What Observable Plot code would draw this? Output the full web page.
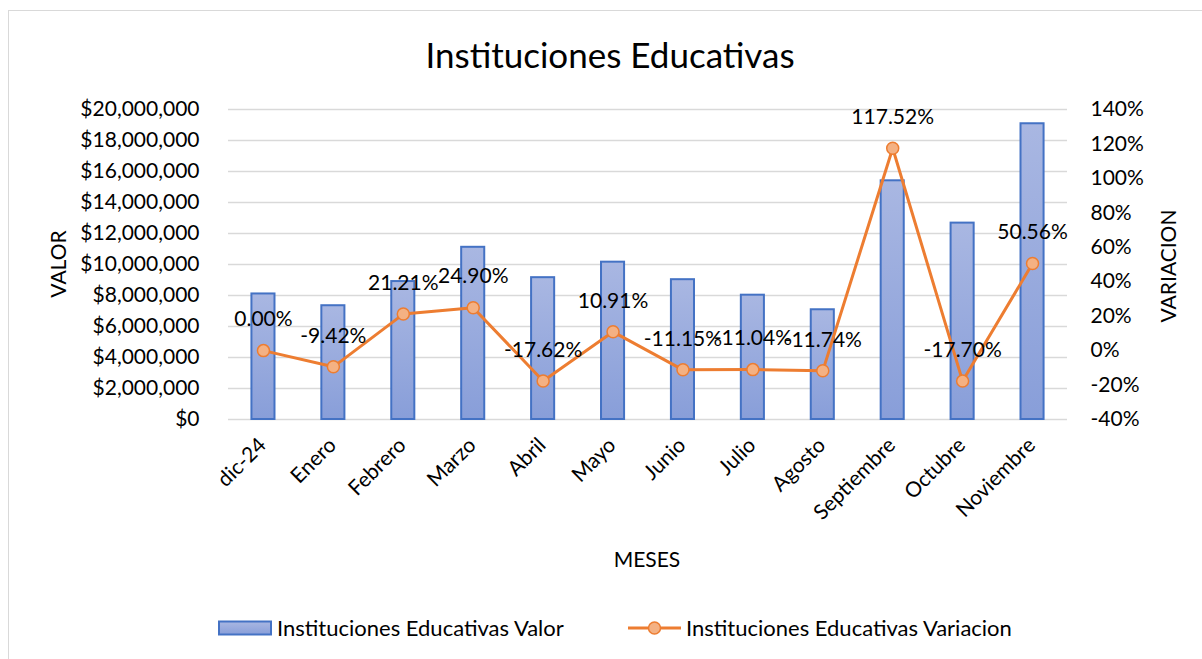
<!DOCTYPE html>
<html><head><meta charset="utf-8">
<script src="https://cdn.jsdelivr.net/npm/d3@7"></script>
<script src="https://cdn.jsdelivr.net/npm/@observablehq/plot@0.6"></script>
<style>
html,body{margin:0;padding:0;background:#fff;overflow:hidden;}
#wrap{position:relative;width:1202px;height:659px;font-family:Lato,sans-serif;color:#000;}
#border{position:absolute;left:8px;top:10px;width:1300px;height:800px;border:1.5px solid #d9d9d9;box-sizing:border-box;}
#chart{position:absolute;left:0;top:0;}
.lbl{position:absolute;white-space:nowrap;line-height:1;}
#title{left:610px;top:54px;transform:translate(-50%,-50%);font-size:35px;}
#ytl{left:57px;top:264px;transform:translate(-50%,-50%) rotate(-90deg);font-size:21px;}
#ytr{left:1167px;top:266px;transform:translate(-50%,-50%) rotate(-90deg);font-size:21px;}
#xt{left:647px;top:558px;transform:translate(-50%,-50%);font-size:21px;}
.leg{top:628px;transform:translateY(-50%);font-size:22px;}
.sw{position:absolute;}
</style></head><body>
<div id="wrap">
  <div id="border"></div>
  <div id="chart"></div>
  <div class="lbl" id="title">Instituciones Educativas</div>
  <div class="lbl" id="ytl">VALOR</div>
  <div class="lbl" id="ytr">VARIACION</div>
  <div class="lbl" id="xt">MESES</div>
  <svg class="sw" style="left:218px;top:620px" width="56" height="16">
    <defs><linearGradient id="legGrad" x1="0" y1="0" x2="0" y2="1"><stop offset="0" stop-color="#a9b7e2"/><stop offset="1" stop-color="#889ed9"/></linearGradient></defs>
    <rect x="1" y="1.5" width="52" height="13" fill="url(#legGrad)" stroke="#4472c4" stroke-width="2"/>
  </svg>
  <div class="lbl leg" style="left:277px">Instituciones Educativas Valor</div>
  <svg class="sw" style="left:626px;top:618px" width="58" height="20">
    <line x1="2" y1="10" x2="55" y2="10" stroke="#ed7d31" stroke-width="3"/>
    <circle cx="28.5" cy="10" r="6" fill="#f4b183" stroke="#ed7d31" stroke-width="1.5"/>
  </svg>
  <div class="lbl leg" style="left:686px">Instituciones Educativas Variacion</div>
</div>
<script>
const months = ["dic-24","Enero","Febrero","Marzo","Abril","Mayo","Junio","Julio","Agosto","Septiembre","Octubre","Noviembre"];
const valor = [8100000, 7340000, 8900000, 11110000, 9150000, 10150000, 9020000, 8020000, 7080000, 15400000, 12670000, 19080000];
const variacion = [0.0000, -0.0942, 0.2121, 0.2490, -0.1762, 0.1091, -0.1115, -0.1104, -0.1174, 1.1752, -0.1770, 0.5056];
const valorTicks = [0, 2000000, 4000000, 6000000, 8000000, 10000000, 12000000, 14000000, 16000000, 18000000, 20000000];
const pctTicks = [-0.4, -0.2, 0, 0.2, 0.4, 0.6, 0.8, 1.0, 1.2, 1.4];

const vMax = 20000000, pMin = -0.4, pMax = 1.4;
const toY = p => (p - pMin) / (pMax - pMin) * vMax;
const fromY = y => y / vMax * (pMax - pMin) + pMin;
const fmtPct2 = p => (p * 100).toFixed(2) + "%";
const fmtPct0 = p => Math.round(p * 100) + "%";

const data = months.map((m, i) => ({month: m, valor: valor[i], variacion: variacion[i]}));

const svg = Plot.plot({
  width: 1202,
  height: 659,
  marginTop: 109,
  marginBottom: 240,
  marginLeft: 228,
  marginRight: 135,
  style: {fontFamily: "Lato, sans-serif", fontSize: "21px", color: "#000", background: "transparent", overflow: "visible"},
  x: {domain: months, paddingInner: 0.67, paddingOuter: 0.335, round: false, axis: null},
  y: {domain: [0, vMax], axis: null},
  marks: [
    Plot.ruleY(valorTicks, {stroke: "#d9d9d9", strokeWidth: 1.5, strokeOpacity: 1}),
    Plot.barY(data, {x: "month", y: "valor", fill: "url(#barGrad)", stroke: "#4472c4", strokeWidth: 2}),
    Plot.line(data, {x: "month", y: d => toY(d.variacion), stroke: "#ed7d31", strokeWidth: 3}),
    Plot.dot(data, {x: "month", y: d => toY(d.variacion), r: 6, fill: "#f4b183", stroke: "#ed7d31", strokeWidth: 1.5}),
    Plot.text(data, {x: "month", y: d => toY(d.variacion), text: d => fmtPct2(d.variacion), dy: -31, fontSize: 21, fill: "#000"}),
    Plot.axisY({ticks: valorTicks, tickFormat: d3.format("$,.0f"), tickSize: 0, tickPadding: 29, label: null, fontSize: 21}),
    Plot.axisY({anchor: "right", ticks: pctTicks.map(toY), tickFormat: y => fmtPct0(fromY(y)), tickSize: 0, tickPadding: 23, textAnchor: "start", label: null, fontSize: 21}),
    Plot.text(months, {x: d => d, frameAnchor: "bottom", rotate: -45, textAnchor: "end", dy: 27, dx: 4, fontSize: 21, fill: "#000"})
  ]
});
const defs = d3.select(svg).insert("defs", ":first-child");
const grad = defs.append("linearGradient").attr("id", "barGrad").attr("x1", 0).attr("y1", 0).attr("x2", 0).attr("y2", 1);
grad.append("stop").attr("offset", 0).attr("stop-color", "#a9b7e2");
grad.append("stop").attr("offset", 1).attr("stop-color", "#889ed9");
document.getElementById("chart").appendChild(svg);
</script>
</body></html>
